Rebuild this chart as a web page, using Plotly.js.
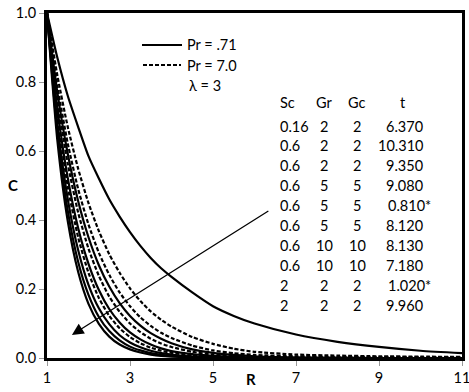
<!DOCTYPE html>
<html>
<head>
<meta charset="utf-8">
<script src="https://cdn.plot.ly/plotly-3.0.1.min.js"></script>
<style>html,body{margin:0;padding:0;background:#fff;}#chart{width:469px;height:392px;}</style>
</head>
<body>
<div id="chart"></div>
<script>
// ---- data ----
const R = [1, 1.25, 1.5, 1.75, 2, 2.25, 2.5, 2.75, 3, 3.25, 3.5, 3.75, 4, 4.5, 5, 5.5, 6, 7, 8, 9, 10, 11];

const c1  = [1, .870, .760, .670, .585, .520, .460, .410, .365, .325, .290, .260, .235, .190, .150, .122, .100, .068, .047, .032, .021, .014];
const c2  = [1, .769, .592, .455, .350, .269, .207, .159, .122, .094, .072, .056, .043, .025, .015, .009, .005, .002, .001, 0, 0, 0];
const c3  = [1, .819, .670, .549, .449, .368, .301, .247, .202, .165, .135, .111, .091, .061, .041, .027, .018, .010, .007, .005, .004, .003];
const c4  = [1, .723, .522, .377, .273, .197, .142, .103, .074, .054, .039, .028, .020, .011, .006, .003, .0015, 0, 0, 0, 0, 0];
const c5  = [1, .789, .622, .490, .387, .305, .241, .190, .150, .118, .093, .073, .058, .036, .022, .014, .009, .005, .003, .002, .002, .002];
const c6  = [1, .679, .461, .313, .212, .144, .098, .066, .045, .031, .021, .014, .010, .004, .002, .001, 0, 0, 0, 0, 0, 0];
const c7  = [1, .750, .563, .422, .317, .238, .178, .134, .100, .075, .056, .042, .032, .018, .010, .006, .004, .002, .001, .001, .001, .001];
const c8  = [1, .705, .497, .350, .247, .174, .122, .086, .061, .043, .030, .021, .015, .007, .004, .002, .001, 0, 0, 0, 0, 0];
const c9  = [1, .630, .397, .250, .157, .099, .062, .039, .025, .016, .010, .006, .004, .002, .001, 0, 0, 0, 0, 0, 0, 0];
const c10 = [1, .654, .427, .279, .183, .119, .078, .051, .033, .022, .014, .009, .006, .003, .001, 0, 0, 0, 0, 0, 0, 0];

const curves = [c1, c2, c3, c4, c5, c6, c7, c8, c9, c10];
const dashed = [false, false, true, false, true, false, true, true, false, false];

const tableHeader = ["Sc", "Gr", "Gc", "t"];
const colSc = ["0.16", "0.6", "0.6", "0.6", "0.6", "0.6", "0.6", "0.6", "2", "2"];
const colGr = ["2", "2", "2", "5", "5", "5", "10", "10", "2", "2"];
const colGc = ["2", "2", "2", "5", "5", "5", "10", "10", "2", "2"];
const colT  = ["6.370", "10.310", "9.350", "9.080", "0.810*", "8.120", "8.130", "7.180", "1.020*", "9.960"];

const xTicks = [1, 3, 5, 7, 9, 11];
const yTicks = [0, 0.2, 0.4, 0.6, 0.8, 1.0];

const legendNames = ["Pr = .71", "Pr = 7.0"];
const lambdaText = "λ = 3";

// ---- layout helpers ----
const W = 469, H = 392;
const M = {l: 47, r: 7, t: 13, b: 34};
const pw = W - M.l - M.r, ph = H - M.t - M.b;
const px = x => (x - M.l) / pw;        // pixel -> paper x
const py = y => (H - M.b - y) / ph;    // pixel -> paper y

const FONT = "Lato, 'Open Sans', sans-serif";
const TXT = '#000';

const traces = curves.map((c, i) => ({
  x: R, y: c, type: 'scatter', mode: 'lines',
  line: {color: '#000', width: 2.2, dash: dashed[i] ? '4px,2px' : 'solid', shape: 'spline', smoothing: 0.6},
  name: dashed[i] ? legendNames[1] : legendNames[0],
  showlegend: false,
  hoverinfo: 'skip'
}));

const ann = [];
function txt(t, x, y, anchor, size, bold) {
  ann.push({text: bold ? '<b>' + t + '</b>' : t, xref: 'paper', yref: 'paper', x: px(x), y: py(y),
    xanchor: anchor || 'left', yanchor: 'middle', showarrow: false,
    font: {family: FONT, size: size || 14.5, color: TXT}});
}
// table
const hdrY = 102, row0 = 126, rowGap = 19.9;
txt(tableHeader[0], 278, hdrY, 'left');
txt(tableHeader[1], 324, hdrY, 'center');
txt(tableHeader[2], 357, hdrY, 'center');
txt(tableHeader[3], 403, hdrY, 'center');
colSc.forEach((v, i) => {
  const y = row0 + i * rowGap;
  txt(v, 278, y, 'left');
  txt(colGr[i], 324, y, 'center');
  txt(colGc[i], 357, y, 'center');
  const t = colT[i];
  txt(t, t.endsWith('*') ? 433 : 425, y, 'right');
});
// legend (line samples + labels)
const shapes = [
  {type: 'line', xref: 'paper', yref: 'paper', x0: px(142), x1: px(182), y0: py(45), y1: py(45), line: {color: '#000', width: 2.2}},
  {type: 'line', xref: 'paper', yref: 'paper', x0: px(143), x1: px(181), y0: py(65), y1: py(65), line: {color: '#000', width: 2, dash: '4px,2px'}}
];
txt(legendNames[0], 185, 45, 'left');
txt(legendNames[1], 185, 65, 'left');
txt(lambdaText, 205, 85, 'center');
// axis titles
txt('C', 13, 185, 'center', 15, true);
txt('R', 251, 379, 'center', 15, true);
// arrow
ann.push({x: 1.6, y: 0.067, ax: 6.37, ay: 0.429, xref: 'x', yref: 'y', axref: 'x', ayref: 'y',
  text: '', showarrow: true, arrowhead: 2, arrowsize: 1.8, arrowwidth: 1.3, arrowcolor: '#000'});

const layout = {
  width: W, height: H,
  margin: M,
  paper_bgcolor: '#fff', plot_bgcolor: '#fff',
  font: {family: FONT, size: 14.5, color: TXT},
  xaxis: {range: [1, 11], tickvals: xTicks, ticktext: xTicks.map(String), showgrid: false, zeroline: false,
    showline: true, linecolor: '#000', linewidth: 3, mirror: true, ticklabeloverflow: 'allow',
    ticks: 'outside', ticklen: 5, tickcolor: '#999', tickwidth: 1,
    tickfont: {family: FONT, size: 14.5, color: TXT}},
  yaxis: {range: [0, 1], tickvals: yTicks, ticktext: yTicks.map(v => v.toFixed(1)), showgrid: false, zeroline: false,
    showline: true, linecolor: '#000', linewidth: 3, mirror: true,
    ticks: 'outside', ticklen: 5, tickcolor: '#999', tickwidth: 1,
    tickfont: {family: FONT, size: 14.5, color: TXT}},
  showlegend: false,
  shapes: shapes,
  annotations: ann
};

Plotly.newPlot('chart', traces, layout, {displayModeBar: false, staticPlot: true});
</script>
</body>
</html>
